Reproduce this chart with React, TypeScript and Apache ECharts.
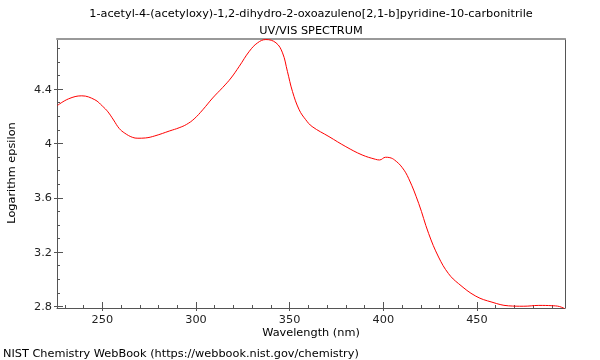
import React, { useEffect, useRef } from "react";
import * as echarts from "echarts";

const titleLine1 = "1-acetyl-4-(acetyloxy)-1,2-dihydro-2-oxoazuleno[2,1-b]pyridine-10-carbonitrile";
const titleLine2 = "UV/VIS SPECTRUM";
const xName = "Wavelength (nm)";
const yName = "Logarithm epsilon";
const footer = "NIST Chemistry WebBook (https://webbook.nist.gov/chemistry)";

const wavelengths = [
  226, 232, 239, 246, 250, 253, 256, 259, 262, 266, 269, 273, 278, 286, 291, 295,
  299, 303.6, 308.9, 314.3, 318.7, 323.1, 328.5, 332.9, 337.3, 342.7, 346.2, 348.8,
  351.5, 355.1, 358.6, 362, 371, 380, 388.7, 395.8, 398, 401.2, 403.5, 406, 410, 413.6,
  418.9, 424.2, 429.5, 434.8, 440.2, 449.4, 458, 466.8, 475, 483, 490, 494, 497,
];
const logEps = [
  4.279, 4.328, 4.35, 4.321, 4.275, 4.232, 4.172, 4.11, 4.075, 4.045, 4.038, 4.04, 4.055,
  4.092, 4.115, 4.14, 4.18, 4.247, 4.334, 4.412, 4.481, 4.567, 4.678, 4.74, 4.764, 4.74,
  4.666, 4.53, 4.382, 4.247, 4.174, 4.124, 4.05, 3.976, 3.915, 3.883, 3.878, 3.898, 3.895,
  3.878, 3.824, 3.74, 3.558, 3.337, 3.164, 3.042, 2.968, 2.876, 2.832, 2.805, 2.802, 2.808,
  2.806, 2.8, 2.783,
];

const xMajor = [250, 300, 350, 400, 450];
const xMinor = [230, 240, 260, 270, 280, 290, 310, 320, 330, 340, 360, 370, 380, 390, 410, 420, 430, 440, 460, 470, 480, 490];
const yMajor = [2.8, 3.2, 3.6, 4, 4.4];
const yMinor = [2.9, 3.0, 3.1, 3.3, 3.4, 3.5, 3.7, 3.8, 3.9, 4.1, 4.2, 4.3, 4.5, 4.6, 4.7];

const X_MIN = 225.8;
const X_MAX = 497;
const Y_MIN = 2.789;
const Y_MAX = 4.768;

const FONT = "DejaVu Sans";
const FS = 11.3;
const AXIS_COLOR = "#555";

export default function App() {
  const ref = useRef<HTMLDivElement>(null);
  useEffect(() => {
    if (!ref.current) return;
    const chart = echarts.init(ref.current, undefined, { renderer: "svg" });
    const baseX = { type: "value", min: X_MIN, max: X_MAX, position: "bottom", splitLine: { show: false } };
    const baseY = { type: "value", min: Y_MIN, max: Y_MAX, position: "left", splitLine: { show: false } };
    const font = `${FS}px "${FONT}"`;
    chart.setOption({
      animation: false,
      grid: { left: 57, right: 35, top: 39, bottom: 52, containLabel: false },
      xAxis: [
        {
          ...baseX,
          axisLine: { show: true, lineStyle: { color: AXIS_COLOR, width: 1 } },
          axisTick: { show: true, inside: false, length: 3, customValues: xMajor, lineStyle: { color: AXIS_COLOR } },
          axisLabel: { show: true, customValues: xMajor, margin: 6, color: "#222", fontSize: FS, fontFamily: FONT },
        },
        {
          ...baseX,
          axisLine: { show: false },
          axisTick: { show: true, inside: true, length: 6, customValues: xMajor, lineStyle: { color: AXIS_COLOR } },
          axisLabel: { show: false },
        },
        {
          ...baseX,
          axisLine: { show: false },
          axisTick: { show: true, inside: true, length: 3, customValues: xMinor, lineStyle: { color: AXIS_COLOR } },
          axisLabel: { show: false },
        },
        {
          ...baseX,
          position: "top",
          axisLine: { show: true, lineStyle: { color: "#999", width: 2 } },
          axisTick: { show: false },
          axisLabel: { show: false },
        },
      ],
      yAxis: [
        {
          ...baseY,
          axisLine: { show: true, lineStyle: { color: AXIS_COLOR, width: 1 } },
          axisTick: { show: true, inside: false, length: 3, customValues: yMajor, lineStyle: { color: AXIS_COLOR } },
          axisLabel: {
            show: true,
            customValues: yMajor,
            margin: 5,
            color: "#222",
            fontSize: FS,
            fontFamily: FONT,
            formatter: (v: number) => String(Math.round(v * 10) / 10),
          },
        },
        {
          ...baseY,
          axisLine: { show: false },
          axisTick: { show: true, inside: true, length: 6, customValues: yMajor, lineStyle: { color: AXIS_COLOR } },
          axisLabel: { show: false },
        },
        {
          ...baseY,
          axisLine: { show: false },
          axisTick: { show: true, inside: true, length: 3, customValues: yMinor, lineStyle: { color: AXIS_COLOR } },
          axisLabel: { show: false },
        },
        {
          ...baseY,
          position: "right",
          axisLine: { show: true, lineStyle: { color: AXIS_COLOR, width: 1 } },
          axisTick: { show: false },
          axisLabel: { show: false },
        },
      ],
      series: [
        {
          type: "line",
          data: wavelengths.map((w, i) => [w, logEps[i]]),
          smooth: 0.4,
          showSymbol: false,
          clip: true,
          lineStyle: { color: "#ff0000", width: 1 },
          itemStyle: { color: "#ff0000" },
        },
      ],
      graphic: [
        {
          type: "text",
          x: 311,
          y: 13,
          style: { text: titleLine1, fill: "#000", font, textAlign: "center", textVerticalAlign: "middle" },
        },
        {
          type: "text",
          x: 311,
          y: 30,
          style: { text: titleLine2, fill: "#000", font, textAlign: "center", textVerticalAlign: "middle" },
        },
        {
          type: "text",
          x: 311,
          y: 332,
          style: { text: xName, fill: "#000", font, textAlign: "center", textVerticalAlign: "middle" },
        },
        {
          type: "text",
          x: 11,
          y: 173,
          rotation: Math.PI / 2,
          style: { text: yName, fill: "#000", font, textAlign: "center", textVerticalAlign: "middle" },
        },
        {
          type: "text",
          x: 3,
          y: 353,
          style: { text: footer, fill: "#000", font, textAlign: "left", textVerticalAlign: "middle" },
        },
      ],
    });
    return () => chart.dispose();
  }, []);
  return <div ref={ref} style={{ position: "fixed", left: 0, top: 0, width: 600, height: 360 }} />;
}
